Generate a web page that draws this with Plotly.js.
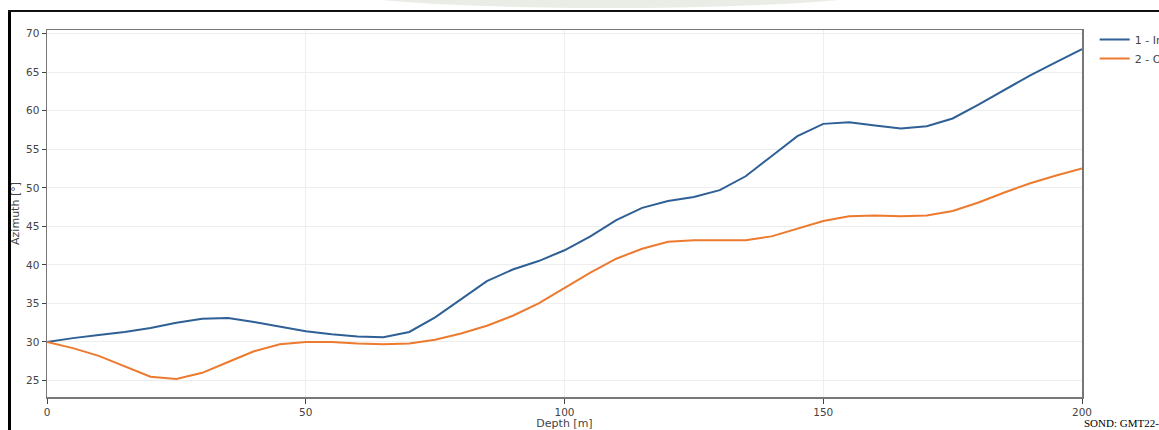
<!DOCTYPE html>
<html>
<head>
<meta charset="utf-8">
<script src="https://cdn.plot.ly/plotly-3.0.1.min.js"></script>
<style>
  html, body { margin: 0; padding: 0; background: #fff; width: 1159px; height: 430px; overflow: hidden; }
  #chart { position: absolute; left: 0; top: 0; width: 1159px; height: 430px; }
  #vline { position: absolute; left: 8px; top: 10px; width: 3px; height: 420px; background: #000; }
  #hline { position: absolute; left: 8px; top: 10px; width: 1151px; height: 2px; background: #111; }
  #wm { position: absolute; left: 330px; top: -30px; width: 560px; height: 38px; border-radius: 50%; background: #e3e8e0; opacity: 0.8; }
  #sond { position: absolute; left: 1084px; top: 417px; font-family: "Liberation Serif", serif; font-size: 11px; color: #000; white-space: nowrap; }
</style>
</head>
<body>
<div id="wm"></div>
<div id="chart"></div>
<div id="vline"></div>
<div id="hline"></div>
<div id="sond">SOND: GMT22-3</div>
<script>
const depth = [0,5,10,15,20,25,30,35,40,45,50,55,60,65,70,75,80,85,90,95,100,105,110,115,120,125,130,135,140,145,150,155,160,165,170,175,180,185,190,195,200];
const azimuthIn = [30.0,30.5,30.9,31.3,31.8,32.5,33.0,33.1,32.6,32.0,31.4,31.0,30.7,30.6,31.3,33.2,35.6,37.9,39.4,40.5,41.9,43.7,45.8,47.4,48.3,48.8,49.7,51.5,54.1,56.7,58.3,58.5,58.1,57.7,58.0,59.0,60.8,62.7,64.6,66.3,68.0];
const azimuthOut = [30.0,29.2,28.2,26.8,25.5,25.2,26.0,27.4,28.8,29.7,30.0,30.0,29.8,29.7,29.8,30.3,31.1,32.1,33.4,35.0,37.0,39.0,40.8,42.1,43.0,43.2,43.2,43.2,43.7,44.7,45.7,46.3,46.4,46.3,46.4,47.0,48.1,49.4,50.6,51.6,52.5];
const seriesNames = ["1 - Input", "2 - Output"];
const xTicks = [0,50,100,150,200];
const yTicks = [25,30,35,40,45,50,55,60,65,70];

const font = {family: "DejaVu Sans, Verdana, sans-serif", size: 11, color: "#444"};
const tfont = {family: "DejaVu Sans, Verdana, sans-serif", size: 10.5, color: "#444"};

const traces = [
  {x: depth, y: azimuthIn, name: seriesNames[0], type: "scatter", mode: "lines",
   line: {color: "#2e6096", width: 2}},
  {x: depth, y: azimuthOut, name: seriesNames[1], type: "scatter", mode: "lines",
   line: {color: "#ec7a2f", width: 2}}
];

const layout = {
  width: 1159, height: 430,
  margin: {l: 47, r: 77, t: 30, b: 33, pad: 0, autoexpand: false},
  paper_bgcolor: "rgba(0,0,0,0)", plot_bgcolor: "#fff",
  font: font,
  showlegend: true,
  legend: {xref: "container", yref: "container", x: 0.9445, y: 0.942, xanchor: "left", yanchor: "top",
           font: font, bgcolor: "rgba(0,0,0,0)", tracegroupgap: 0, itemwidth: 30},
  xaxis: {
    range: [0, 200], tickvals: xTicks, ticktext: xTicks.map(String),
    showgrid: true, gridcolor: "#eeeeee", zeroline: false,
    showline: true, linecolor: "#777", linewidth: 1.5, mirror: true,
    ticks: "outside", ticklen: 5, tickcolor: "#444", tickfont: tfont,
    title: {text: "Depth [m]", font: font, standoff: 8}, automargin: false
  },
  yaxis: {
    range: [22.86, 70.48], tickvals: yTicks, ticktext: yTicks.map(String),
    showgrid: true, gridcolor: "#eeeeee", zeroline: false,
    showline: true, linecolor: "#777", linewidth: 1.5, mirror: true,
    ticks: "outside", ticklen: 4, tickcolor: "#444", tickfont: tfont,
    title: {text: "Azimuth [°]", font: font, standoff: 4}, automargin: false
  }
};

Plotly.newPlot("chart", traces, layout, {displayModeBar: false, staticPlot: true});
</script>
</body>
</html>
